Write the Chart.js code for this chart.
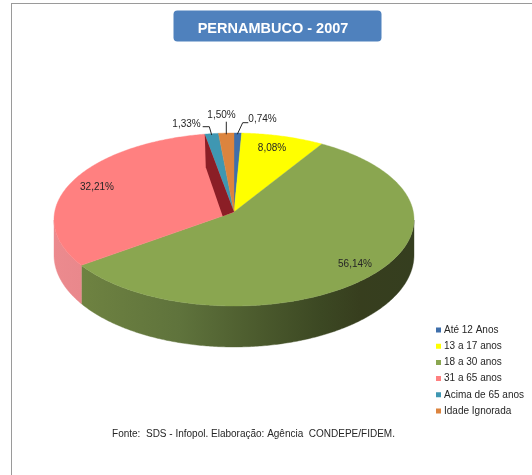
<!DOCTYPE html>
<html>
<head>
<meta charset="utf-8">
<style>
html,body{margin:0;padding:0;background:#fff;overflow:hidden}
#wrap{position:relative;width:532px;height:475px}
#frame{position:absolute;left:11px;top:3px;right:0;bottom:0;border-left:1px solid #9a9a9a;border-top:1px solid #9a9a9a}
canvas{position:absolute;left:0;top:0}
</style>
<script src="https://cdn.jsdelivr.net/npm/chart.js@4"></script>
</head>
<body>
<div id="wrap"><div id="frame"></div><canvas id="c" width="532" height="475"></canvas></div>
<script>
const titleText = 'PERNAMBUCO - 2007';
const sourceText = 'Fonte:  SDS - Infopol. Elaboração: Agência  CONDEPE/FIDEM.';
const categories = ['Até 12 Anos','13 a 17 anos','18 a 30 anos','31 a 65 anos','Acima de 65 anos','Idade Ignorada'];
const shares = [0.74, 8.08, 56.14, 32.21, 1.33, 1.50];
const topColors = ['#3F6FAB','#FFFF00','#8AA650','#FF8080','#3F97B2','#DC843E'];

// perspective description of the tilted pie
const GEO = {topCy:219.5, topRy:86.5, apexY:212, lowCy:255, lowRy:92};
const SPOTS = [
  {x:262.5,y:119.5,lead:[[237.3,134.3],[242.7,122.7],[248.3,122.7]]},
  {x:272,y:148},
  {x:355,y:264},
  {x:97,y:187},
  {x:186.5,y:124,lead:[[211.7,135],[209.3,126.7],[202.7,126.7]]},
  {x:221.5,y:115,lead:[[226.3,134.3],[226.3,121.7]]}
];
const CUT = {index:3, color:'#8B1E26', drop:33, dx:1, innerDx:-11.3, innerDy:4.3};

const aK = (GEO.topCy-GEO.apexY)/GEO.topRy;
function unit(phi){ // phi clockwise from 12 o'clock -> point on the unit ellipse, perspective-warped
  const s=Math.sin(phi), c=Math.cos(phi), d=1+aK*c;
  return {u:s*Math.sqrt(1-aK*aK)/d, v:(c+aK)/d};
}
function topPt(cx,rx,p){return [cx+rx*p.u, GEO.topCy-GEO.topRy*p.v];}
function lowPt(cx,rx,p){return [cx+rx*p.u, GEO.lowCy-GEO.lowRy*p.v];}
const phiOf = a => a+Math.PI/2;

// each arc is painted as a perspective wedge, from the angles the controller computed
Chart.ArcElement.prototype.draw = function(ctx){
  const a0=phiOf(this.startAngle), a1=phiOf(this.endAngle), cx=this.x, rx=this.outerRadius;
  const n=Math.max(4,Math.ceil((a1-a0)/0.01));
  ctx.save();
  ctx.beginPath();
  ctx.moveTo(cx,GEO.apexY);
  for(let i=0;i<=n;i++){const q=topPt(cx,rx,unit(a0+(a1-a0)*i/n));ctx.lineTo(q[0],q[1]);}
  ctx.closePath();
  ctx.fillStyle=this.options.backgroundColor;
  ctx.strokeStyle=this.options.backgroundColor;
  ctx.lineWidth=0.4;
  ctx.fill();ctx.stroke();
  ctx.restore();
};

function wallFill(ctx,i,cx,rx){
  const g=ctx.createLinearGradient(cx-rx,0,cx+rx,0);
  if(i===2){
    g.addColorStop(0.08,'#6E8241');g.addColorStop(0.35,'#5F733C');g.addColorStop(0.57,'#4B5A2D');
    g.addColorStop(0.74,'#3C4823');g.addColorStop(0.85,'#373E1E');g.addColorStop(1,'#353E1F');
    return g;
  }
  if(i===3){g.addColorStop(0,'#EC8A8E');g.addColorStop(0.15,'#E6868A');return g;}
  return topColors[i];
}

const walls = {
  id:'walls',
  beforeDatasetsDraw(chart){
    const ctx=chart.ctx, arcs=chart.getDatasetMeta(0).data;
    arcs.forEach((arc,i)=>{
      const cx=arc.x, rx=arc.outerRadius;
      const lo=Math.max(phiOf(arc.startAngle),0), hi=phiOf(arc.endAngle);
      // only the part on the front half of the rim is visible
      const pts=[];
      const n=Math.ceil((hi-lo)/0.01);
      for(let k=0;k<=n;k++){const p=unit(lo+(hi-lo)*k/n); if(p.v<=0) pts.push(p);}
      if(pts.length<2) return;
      ctx.save();
      ctx.beginPath();
      pts.forEach((p,k)=>{const q=topPt(cx,rx,p);k?ctx.lineTo(q[0],q[1]):ctx.moveTo(q[0],q[1]);});
      pts.slice().reverse().forEach(p=>{const q=lowPt(cx,rx,p);ctx.lineTo(q[0],q[1]);});
      ctx.closePath();
      const f=wallFill(ctx,i,cx,rx);
      ctx.fillStyle=f;ctx.strokeStyle=f;ctx.lineWidth=0.4;
      ctx.fill();ctx.stroke();
      ctx.restore();
    });
  },
  afterDatasetsDraw(chart){
    const ctx=chart.ctx, arcs=chart.getDatasetMeta(0).data;
    // inner cut face of the large slice
    const arc=arcs[CUT.index], cx=arc.x, rx=arc.outerRadius;
    const e=topPt(cx,rx,unit(phiOf(arc.endAngle)));
    ctx.save();
    ctx.fillStyle=CUT.color;
    ctx.beginPath();
    ctx.moveTo(e[0],e[1]);
    ctx.lineTo(e[0]+CUT.dx,e[1]+CUT.drop);
    ctx.lineTo(cx+CUT.innerDx,GEO.apexY+CUT.innerDy);
    ctx.lineTo(cx,GEO.apexY);
    ctx.closePath();ctx.fill();
    ctx.font='10px "Liberation Sans", Arial, sans-serif';
    ctx.textAlign='center';ctx.textBaseline='middle';
    ctx.fillStyle='#262626';ctx.strokeStyle='#262626';ctx.lineWidth=1;
    shares.forEach((v,i)=>{
      const s=SPOTS[i];
      ctx.fillText(v.toFixed(2).replace('.',',')+'%',s.x,s.y);
      if(s.lead){
        ctx.beginPath();
        s.lead.forEach((q,k)=>k?ctx.lineTo(q[0],q[1]):ctx.moveTo(q[0],q[1]));
        ctx.stroke();
      }
    });
    ctx.restore();
  }
};

const placement = {
  id:'placement',
  afterLayout(chart){
    const lg=chart.legend;
    const pad=lg.options.labels.padding;
    lg.left=436-pad+2; lg.right=532; lg.top=325-pad; lg.bottom=475;
    lg.width=lg.right-lg.left; lg.height=lg.bottom-lg.top;
    chart.titleBlock.left=168; chart.titleBlock.right=378;
    const sub=chart.boxes.find(b=>b.options&&b.options.text===sourceText);
    if(sub){sub.left=103;sub.right=404;}
  },
  beforeDraw(chart){
    const ctx=chart.ctx;
    ctx.save();
    ctx.fillStyle='#4F81BD';
    ctx.beginPath();
    ctx.roundRect(173.5,10.5,208,31,4);
    ctx.fill();
    ctx.restore();
  }
};

new Chart(document.getElementById('c'),{
  type:'pie',
  data:{labels:categories,datasets:[{data:shares,backgroundColor:topColors,borderWidth:0}]},
  plugins:[walls,placement],
  options:{
    responsive:false,animation:false,
    layout:{padding:{left:54,right:118,top:0,bottom:0}},
    plugins:{
      tooltip:{enabled:false},
      title:{display:true,text:titleText,color:'#fff',align:'center',
        font:{family:'"Liberation Sans", Arial, sans-serif',size:14.5,weight:'bold',lineHeight:1.2},
        padding:{top:20,bottom:4.6}},
      subtitle:{display:true,position:'bottom',text:sourceText,color:'#262626',align:'center',
        font:{family:'"Liberation Sans", Arial, sans-serif',size:10,weight:'normal',lineHeight:1.2},
        padding:{top:0,bottom:34.5}},
      legend:{display:true,position:'chartArea',align:'start',
        labels:{
          boxWidth:1,boxHeight:1,padding:6.2,color:'#262626',
          font:{family:'"Liberation Sans", Arial, sans-serif',size:10,lineHeight:1},
          generateLabels(chart){
            return categories.map((t,i)=>({text:t,fillStyle:topColors[i],strokeStyle:topColors[i],lineWidth:4,hidden:false,index:i,fontColor:'#262626'}));
          }
        }
      }
    }
  }
});
</script>
</body>
</html>
